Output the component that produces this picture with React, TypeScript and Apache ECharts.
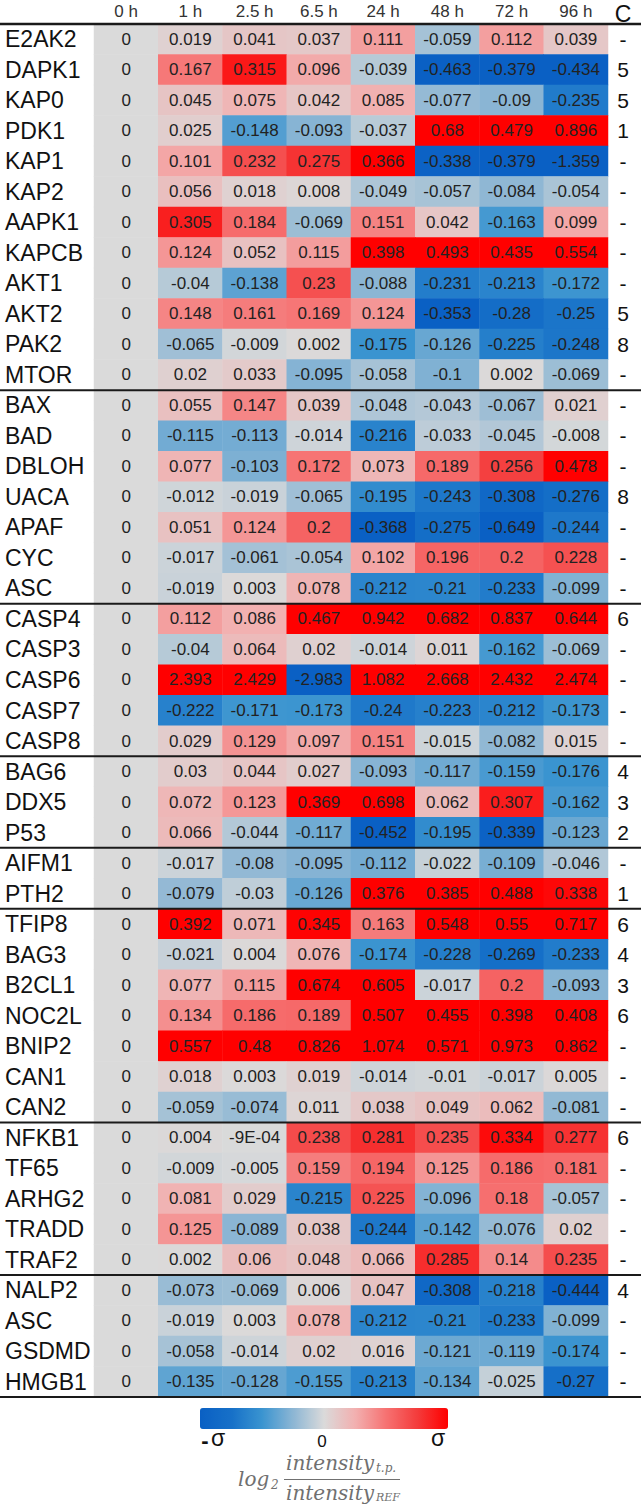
import React, { useEffect, useRef } from 'react';
import * as echarts from 'echarts';

const timeLabels = ['0 h', '1 h', '2.5 h', '6.5 h', '24 h', '48 h', '72 h', '96 h'];

const genes = [
  'E2AK2', 'DAPK1', 'KAP0', 'PDK1', 'KAP1', 'KAP2', 'AAPK1', 'KAPCB', 'AKT1', 'AKT2', 'PAK2', 'MTOR',
  'BAX', 'BAD', 'DBLOH', 'UACA', 'APAF', 'CYC', 'ASC',
  'CASP4', 'CASP3', 'CASP6', 'CASP7', 'CASP8',
  'BAG6', 'DDX5', 'P53',
  'AIFM1', 'PTH2',
  'TFIP8', 'BAG3', 'B2CL1', 'NOC2L', 'BNIP2', 'CAN1', 'CAN2',
  'NFKB1', 'TF65', 'ARHG2', 'TRADD', 'TRAF2',
  'NALP2', 'ASC', 'GSDMD', 'HMGB1',
];

const groupSizes = [12, 7, 5, 3, 2, 7, 5, 4];

const clusters = [
  '-', '5', '5', '1', '-', '-', '-', '-', '-', '5', '8', '-',
  '-', '-', '-', '8', '-', '-', '-',
  '6', '-', '-', '-', '-',
  '4', '3', '2',
  '-', '1',
  '6', '4', '3', '6', '-', '-', '-',
  '6', '-', '-', '-', '-',
  '4', '-', '-', '-',
];

const values: number[][] = [
  [0, 0.019, 0.041, 0.037, 0.111, -0.059, 0.112, 0.039],
  [0, 0.167, 0.315, 0.096, -0.039, -0.463, -0.379, -0.434],
  [0, 0.045, 0.075, 0.042, 0.085, -0.077, -0.09, -0.235],
  [0, 0.025, -0.148, -0.093, -0.037, 0.68, 0.479, 0.896],
  [0, 0.101, 0.232, 0.275, 0.366, -0.338, -0.379, -1.359],
  [0, 0.056, 0.018, 0.008, -0.049, -0.057, -0.084, -0.054],
  [0, 0.305, 0.184, -0.069, 0.151, 0.042, -0.163, 0.099],
  [0, 0.124, 0.052, 0.115, 0.398, 0.493, 0.435, 0.554],
  [0, -0.04, -0.138, 0.23, -0.088, -0.231, -0.213, -0.172],
  [0, 0.148, 0.161, 0.169, 0.124, -0.353, -0.28, -0.25],
  [0, -0.065, -0.009, 0.002, -0.175, -0.126, -0.225, -0.248],
  [0, 0.02, 0.033, -0.095, -0.058, -0.1, 0.002, -0.069],
  [0, 0.055, 0.147, 0.039, -0.048, -0.043, -0.067, 0.021],
  [0, -0.115, -0.113, -0.014, -0.216, -0.033, -0.045, -0.008],
  [0, 0.077, -0.103, 0.172, 0.073, 0.189, 0.256, 0.478],
  [0, -0.012, -0.019, -0.065, -0.195, -0.243, -0.308, -0.276],
  [0, 0.051, 0.124, 0.2, -0.368, -0.275, -0.649, -0.244],
  [0, -0.017, -0.061, -0.054, 0.102, 0.196, 0.2, 0.228],
  [0, -0.019, 0.003, 0.078, -0.212, -0.21, -0.233, -0.099],
  [0, 0.112, 0.086, 0.467, 0.942, 0.682, 0.837, 0.644],
  [0, -0.04, 0.064, 0.02, -0.014, 0.011, -0.162, -0.069],
  [0, 2.393, 2.429, -2.983, 1.082, 2.668, 2.432, 2.474],
  [0, -0.222, -0.171, -0.173, -0.24, -0.223, -0.212, -0.173],
  [0, 0.029, 0.129, 0.097, 0.151, -0.015, -0.082, 0.015],
  [0, 0.03, 0.044, 0.027, -0.093, -0.117, -0.159, -0.176],
  [0, 0.072, 0.123, 0.369, 0.698, 0.062, 0.307, -0.162],
  [0, 0.066, -0.044, -0.117, -0.452, -0.195, -0.339, -0.123],
  [0, -0.017, -0.08, -0.095, -0.112, -0.022, -0.109, -0.046],
  [0, -0.079, -0.03, -0.126, 0.376, 0.385, 0.488, 0.338],
  [0, 0.392, 0.071, 0.345, 0.163, 0.548, 0.55, 0.717],
  [0, -0.021, 0.004, 0.076, -0.174, -0.228, -0.269, -0.233],
  [0, 0.077, 0.115, 0.674, 0.605, -0.017, 0.2, -0.093],
  [0, 0.134, 0.186, 0.189, 0.507, 0.455, 0.398, 0.408],
  [0, 0.557, 0.48, 0.826, 1.074, 0.571, 0.973, 0.862],
  [0, 0.018, 0.003, 0.019, -0.014, -0.01, -0.017, 0.005],
  [0, -0.059, -0.074, 0.011, 0.038, 0.049, 0.062, -0.081],
  [0, 0.004, -0.0009, 0.238, 0.281, 0.235, 0.334, 0.277],
  [0, -0.009, -0.005, 0.159, 0.194, 0.125, 0.186, 0.181],
  [0, 0.081, 0.029, -0.215, 0.225, -0.096, 0.18, -0.057],
  [0, 0.125, -0.089, 0.038, -0.244, -0.142, -0.076, 0.02],
  [0, 0.002, 0.06, 0.048, 0.066, 0.285, 0.14, 0.235],
  [0, -0.073, -0.069, 0.006, 0.047, -0.308, -0.218, -0.444],
  [0, -0.019, 0.003, 0.078, -0.212, -0.21, -0.233, -0.099],
  [0, -0.058, -0.014, 0.02, 0.016, -0.121, -0.119, -0.174],
  [0, -0.135, -0.128, -0.155, -0.213, -0.134, -0.025, -0.27],
];

const labelOverrides: Record<string, string> = { '-0.0009': '-9E-04' };

const SIGMA = 0.35;
const scaleColors = [
  '#0a60c4', '#1670c8', '#3a94d0', '#8cb6d4', '#dadada',
  '#f2b0b0', '#f67272', '#f43c3c', '#ff0000',
];

const FONT = 'Liberation Sans, Arial, sans-serif';
const SERIF = 'DejaVu Serif, serif';

export default function App() {
  const ref = useRef<HTMLDivElement>(null);

  useEffect(() => {
    if (!ref.current) return;
    const chart = echarts.init(ref.current, undefined, { renderer: 'svg' });

    const data: [number, number, number][] = [];
    values.forEach((row, r) => row.forEach((v, c) => data.push([c, r, v])));

    chart.setOption({
      animation: false,
      backgroundColor: '#ffffff',
      grid: { left: 94, right: 33, top: 24, bottom: 109 },
      xAxis: {
        type: 'category',
        position: 'top',
        data: timeLabels,
        axisLine: { show: false },
        axisTick: { show: false },
        splitLine: { show: false },
        axisLabel: { color: '#333', fontSize: 17, fontFamily: FONT, margin: 4 },
      },
      yAxis: [
        {
          type: 'category',
          data: genes,
          inverse: true,
          axisLine: { show: false },
          axisTick: { show: false },
          splitLine: { show: false },
          axisLabel: {
            color: '#111', fontSize: 23, fontFamily: FONT, align: 'left', margin: 89,
            interval: 0,
          },
        },
        {
          type: 'category',
          data: clusters.map((c, i) => ({ value: i + ':' + c })),
          inverse: true,
          position: 'right',
          axisLine: { show: false },
          axisTick: { show: false },
          splitLine: { show: false },
          axisLabel: {
            color: '#111', fontSize: 21, fontFamily: FONT, align: 'center', margin: 15,
            interval: 0,
            formatter: (v: string) => v.split(':')[1],
          },
        },
      ],
      visualMap: {
        type: 'continuous',
        min: -SIGMA,
        max: SIGMA,
        dimension: 2,
        seriesIndex: 0,
        orient: 'horizontal',
        left: 200,
        top: 1408,
        itemWidth: 21,
        itemHeight: 248,
        padding: 0,
        calculable: false,
        hoverLink: false,
        inRange: { color: scaleColors },
      },
      series: [
        {
          type: 'heatmap',
          data,
          progressive: 0,
          emphasis: { disabled: true },
          itemStyle: { borderWidth: 0 },
          label: {
            show: true,
            color: '#222',
            fontSize: 17,
            fontFamily: FONT,
            formatter: (p: any) => {
              const v = p.value[2];
              const k = String(v);
              return labelOverrides[k] ?? k;
            },
          },
        },
      ],
    });

    // separators computed from the axis scale
    const yc = (i: number) => (chart.convertToPixel({ gridIndex: 0 }, [0, i]) as number[])[1];
    const rowH = yc(1) - yc(0);
    const boundaries: number[] = [0];
    let acc = 0;
    groupSizes.forEach((g) => { acc += g; boundaries.push(acc); });
    const lines = boundaries.map((b, i) => {
      const y = yc(0) - rowH / 2 + b * rowH;
      return {
        type: 'line',
        shape: { x1: 0, y1: y, x2: 641, y2: y },
        style: { stroke: '#1a1a1a', lineWidth: i === 0 ? 2.5 : 2 },
        z: 100,
      };
    });

    const grey = '#707070';
    chart.setOption({
      graphic: {
        elements: [
          ...lines,
          { type: 'text', x: 623, y: 14, style: { text: 'C', font: `23px ${FONT}`, fill: '#111', textAlign: 'center', textVerticalAlign: 'middle' } },
          { type: 'text', x: 205, y: 1440, style: { text: '-', font: `bold 22px ${FONT}`, fill: '#111', textAlign: 'center', textVerticalAlign: 'middle' } },
          { type: 'text', x: 218, y: 1438, style: { text: 'σ', font: `23px ${FONT}`, fill: '#111', textAlign: 'center', textVerticalAlign: 'middle' } },
          { type: 'text', x: 322, y: 1441, style: { text: '0', font: `17px ${FONT}`, fill: '#111', textAlign: 'center', textVerticalAlign: 'middle' } },
          { type: 'text', x: 438, y: 1438, style: { text: 'σ', font: `23px ${FONT}`, fill: '#111', textAlign: 'center', textVerticalAlign: 'middle' } },
          { type: 'text', x: 238, y: 1479, style: { text: 'log', font: `italic 20px ${SERIF}`, fill: grey, textAlign: 'left', textVerticalAlign: 'middle' } },
          { type: 'text', x: 271, y: 1485, style: { text: '2', font: `italic 12px ${SERIF}`, fill: grey, textAlign: 'left', textVerticalAlign: 'middle' } },
          { type: 'text', x: 286, y: 1463, style: { text: 'intensity', font: `italic 20px ${SERIF}`, fill: grey, textAlign: 'left', textVerticalAlign: 'middle' } },
          { type: 'text', x: 376, y: 1468, style: { text: 't.p.', font: `italic 12px ${SERIF}`, fill: grey, textAlign: 'left', textVerticalAlign: 'middle' } },
          { type: 'line', shape: { x1: 284, y1: 1479.5, x2: 400, y2: 1479.5 }, style: { stroke: grey, lineWidth: 1.2 } },
          { type: 'text', x: 286, y: 1493, style: { text: 'intensity', font: `italic 20px ${SERIF}`, fill: grey, textAlign: 'left', textVerticalAlign: 'middle' } },
          { type: 'text', x: 376, y: 1497, style: { text: 'REF', font: `italic 11px ${SERIF}`, fill: grey, textAlign: 'left', textVerticalAlign: 'middle' } },
        ],
      },
    });

    return () => chart.dispose();
  }, []);

  return (
    <div
      ref={ref}
      style={{ position: 'absolute', left: 0, top: 0, width: 641, height: 1506, background: '#fff' }}
    />
  );
}
